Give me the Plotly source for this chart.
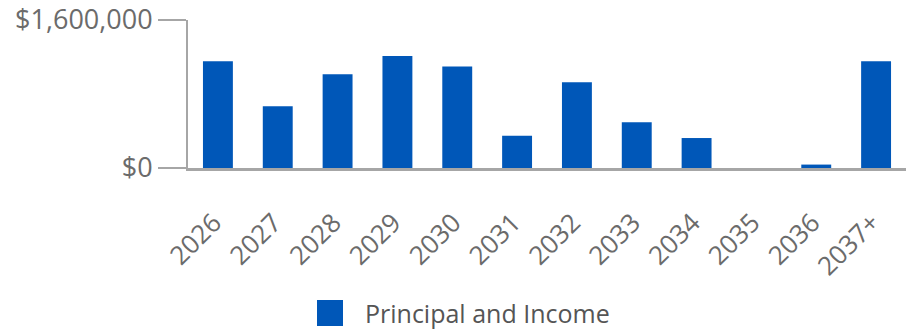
import plotly.graph_objects as go

# Annual cash flows by year
years = ["2026", "2027", "2028", "2029", "2030", "2031", "2032",
         "2033", "2034", "2035", "2036", "2037+"]
principal_income = [1153000, 667000, 1013000, 1211000, 1096000, 350000,
                    926000, 494000, 324000, 0, 37000, 1153000]
series_name = "Principal and Income"

y_tick_vals = [0, 1600000]
y_tick_text = ["$0", "$1,600,000"]

W, H = 913, 330
ML, MR, MT, MB = 188, 7, 20, 162
PW, PH = W - ML - MR, H - MT - MB

BLUE = "#0057B8"
GRAY = "#A6A6A6"
TXT = "#6B6B6B"
FONT = "Open Sans, Noto Sans, sans-serif"

fig = go.Figure()
fig.add_trace(go.Bar(
    x=years, y=principal_income, name=series_name,
    marker=dict(color=BLUE, line=dict(width=0)),
    showlegend=False,
))


def px_x(p):
    return (p - ML) / PW


def px_y(p):
    return (H - MB - p) / PH


# Legend key drawn as a large square plus label
fig.add_shape(type="rect", xref="paper", yref="paper",
              x0=px_x(317), x1=px_x(343), y0=px_y(326), y1=px_y(300),
              fillcolor=BLUE, line=dict(width=0))
fig.add_annotation(text=series_name, xref="paper", yref="paper",
                   x=px_x(363), y=px_y(313), xanchor="left", yanchor="middle",
                   showarrow=False, font=dict(family=FONT, size=25, color="#555555"))

fig.update_layout(
    width=W, height=H,
    margin=dict(l=ML, r=MR, t=MT, b=MB, pad=0),
    paper_bgcolor="white", plot_bgcolor="white",
    bargap=0.5,
    font=dict(family=FONT, color=TXT),
    xaxis=dict(
        type="category", tickangle=-45, automargin=False,
        tickfont=dict(size=26, color=TXT),
        showline=True, linecolor=GRAY, linewidth=3,
        ticks="", showgrid=False, zeroline=False,
        ticklabelstandoff=26, ticklabelshift=-4,
    ),
    yaxis=dict(
        range=[0, 1600000], tickvals=y_tick_vals, ticktext=y_tick_text,
        automargin=False,
        tickfont=dict(size=27, color=TXT),
        showline=True, linecolor=GRAY, linewidth=2,
        ticks="outside", ticklen=28, tickcolor=GRAY, tickwidth=2,
        showgrid=True, gridcolor=GRAY, gridwidth=2, zeroline=False,
    ),
)

fig.write_html("out.html")
